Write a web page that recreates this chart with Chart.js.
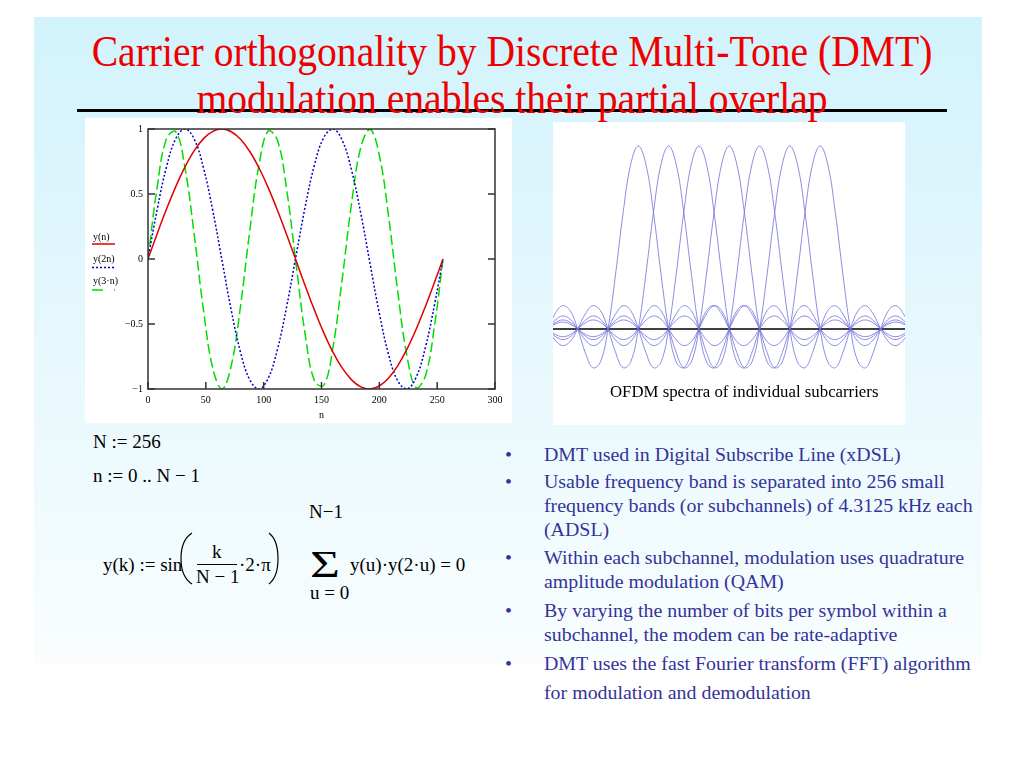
<!DOCTYPE html>
<html>
<head>
<meta charset="utf-8">
<script src="https://cdn.jsdelivr.net/npm/chart.js@4.4.1/dist/chart.umd.min.js"></script>
<style>
  body { margin: 0; width: 1024px; height: 768px; background: #fff; position: relative; overflow: hidden; font-family: "Liberation Serif", "Times New Roman", serif; }
  .abs { position: absolute; white-space: nowrap; line-height: 1; }
  #slide { position: absolute; left: 34px; top: 17px; width: 948px; height: 646px; background: linear-gradient(to bottom, #d2f3fc 0%, #e6f8fd 50%, #f9fdfe 100%); }
  .title { left: 0; width: 1024px; text-align: center; color: #ee0000; font-size: 44px; transform: scaleX(0.9); transform-origin: 512px 0; }
  #rule { position: absolute; left: 77px; top: 109px; width: 870px; height: 2.5px; background: #000; }
  .box { position: absolute; background: #fff; }
  .leg { font-size: 10px; color: #000; }
  .fm { font-size: 19px; color: #000; }
  .bl { font-size: 19.5px; color: #333399; transform: scaleX(1.02); transform-origin: 0 0; }
</style>
</head>
<body>
<div id="slide"></div>
<div id="rule"></div>
<div class="abs title" style="top:30px">Carrier orthogonality by Discrete Multi-Tone (DMT)</div>
<div class="abs title" style="top:77px">modulation enables their partial overlap</div>

<div class="box" style="left:85px;top:118px;width:427px;height:305px">
  <canvas id="waveChart" width="427" height="305"></canvas>
</div>
<div class="abs leg" style="left:93px;top:232px">y(n)</div>
<div class="abs leg" style="left:93px;top:254px">y(2n)</div>
<div class="abs leg" style="left:93px;top:276px">y(3·n)</div>
<svg class="abs" style="left:90px;top:238px" width="28" height="60">
  <line x1="2" y1="6" x2="25" y2="6" stroke="#e00000" stroke-width="1.5"/>
  <line x1="2" y1="29.5" x2="25" y2="29.5" stroke="#0000c8" stroke-width="1.5" stroke-dasharray="2,2"/>
  <line x1="2" y1="52" x2="25" y2="52" stroke="#00dd00" stroke-width="1.5" stroke-dasharray="11,11"/>
</svg>

<div class="box" style="left:553px;top:122px;width:352px;height:303px">
  <canvas id="ofdmChart" width="352" height="303"></canvas>
</div>
<div class="abs" style="left:610px;top:384px;font-size:16.8px;color:#000">OFDM spectra of individual subcarriers</div>

<div class="abs fm" style="left:93px;top:432px">N := 256</div>
<div class="abs fm" style="left:93px;top:466px">n := 0 .. N − 1</div>
<div class="abs fm" style="left:103px;top:555px">y(k) := sin</div>
<svg class="abs" style="left:176px;top:530px" width="106" height="58">
  <path d="M16 3 Q5 10 5 28.5 Q5 47 16 54" fill="none" stroke="#000" stroke-width="1.2"/>
  <path d="M93 3 Q102 10 102 28.5 Q102 47 93 54" fill="none" stroke="#000" stroke-width="1.2"/>
</svg>
<div class="abs fm" style="left:212px;top:542px">k</div>
<div class="abs" style="left:197px;top:564px;width:40px;height:1px;background:#000"></div>
<div class="abs fm" style="left:196px;top:567px">N − 1</div>
<div class="abs fm" style="left:239px;top:555px">·2·π</div>
<div class="abs fm" style="left:309px;top:502px">N−1</div>
<div class="abs fm" style="left:310px;top:545px;font-size:38px;transform:scaleX(1.35);transform-origin:0 0">Σ</div>
<div class="abs fm" style="left:310px;top:583px">u = 0</div>
<div class="abs fm" style="left:350px;top:555px">y(u)·y(2·u) = 0</div>

<div id="bullets"></div>

<script>
// left chart: y(k) = sin(k/(N-1)*2pi), read at every 8th n
const nValues = [0, 8, 16, 24, 32, 40, 48, 56, 64, 72, 80, 88, 96, 104, 112, 120, 128,
                 136, 144, 152, 160, 168, 176, 184, 192, 200, 208, 216, 224, 232, 240, 248, 255];
const yN  = [0, 0.196, 0.384, 0.557, 0.709, 0.834, 0.926, 0.982, 1.000, 0.979, 0.921, 0.827, 0.700, 0.547, 0.373, 0.184, -0.012,
             -0.208, -0.395, -0.568, -0.718, -0.840, -0.930, -0.984, -1.000, -0.977, -0.916, -0.820, -0.692, -0.537, -0.361, -0.172, 0];
const y2N = [0, 0.384, 0.709, 0.926, 1.000, 0.921, 0.700, 0.373, -0.012, -0.395, -0.718, -0.930, -1.000, -0.916, -0.692, -0.361, 0.025,
             0.407, 0.726, 0.935, 1.000, 0.911, 0.683, 0.350, -0.037, -0.418, -0.735, -0.939, -0.999, -0.906, -0.674, -0.338, 0];
const y3N = [0, 0.557, 0.926, 0.979, 0.700, 0.184, -0.395, -0.840, -1.000, -0.820, -0.361, 0.220, 0.726, 0.986, 0.911, 0.526, -0.037,
             -0.588, -0.939, -0.971, -0.674, -0.147, 0.429, 0.860, 0.998, 0.798, 0.327, -0.256, -0.751, -0.992, -0.895, -0.495, 0];

// right chart: one subcarrier spectrum, offsets -9..9 in steps of 0.25
const subcarrierCentres = [3, 4, 5, 6, 7, 8, 9];
const lobeStart = -9;
const lobeStep = 0.25;
const lobeShape = [0, 0.026, 0.037, 0.027, 0, -0.029, -0.042, -0.031, 0, 0.033, 0.049, 0.036,
                   0, -0.039, -0.058, -0.043, 0, 0.047, 0.071, 0.053, 0, -0.060, -0.091, -0.069,
                   0, 0.082, 0.127, 0.100, 0, -0.129, -0.212, -0.180, 0, 0.300, 0.637, 0.900,
                   1.000,
                   0.900, 0.637, 0.300, 0, -0.180, -0.212, -0.129, 0, 0.100, 0.127, 0.082, 0,
                   -0.069, -0.091, -0.060, 0, 0.053, 0.071, 0.047, 0, -0.043, -0.058, -0.039, 0,
                   0.036, 0.049, 0.033, 0, -0.031, -0.042, -0.029, 0, 0.027, 0.037, 0.026, 0];
const freqRange = [0.185, 11.8];

const bulletLines = [
    { text: 'DMT used in Digital Subscribe Line (xDSL)', base: 461, dot: true },
    { text: 'Usable frequency band is separated into 256 small', base: 488, dot: true },
    { text: 'frequency bands (or subchannels) of 4.3125 kHz each', base: 512 },
    { text: '(ADSL)', base: 536 },
    { text: 'Within each subchannel, modulation uses quadrature', base: 564, dot: true },
    { text: 'amplitude modulation (QAM)', base: 588 },
    { text: 'By varying the number of bits per symbol within a', base: 617, dot: true },
    { text: 'subchannel, the modem can be rate-adaptive', base: 641 },
    { text: 'DMT uses the fast Fourier transform (FFT) algorithm', base: 670, dot: true },
    { text: 'for modulation and demodulation', base: 699 }
];

const bulletsDiv = document.getElementById('bullets');
bulletLines.forEach(function(line) {
    const top = line.base - 16.3;
    if (line.dot) {
        bulletsDiv.insertAdjacentHTML('beforeend', '<div class="abs bl" style="left:505px;top:' + top + 'px">•</div>');
    }
    bulletsDiv.insertAdjacentHTML('beforeend', '<div class="abs bl" style="left:544px;top:' + top + 'px">' + line.text + '</div>');
});

function toPoints(xs, ys) {
    return xs.map((x, i) => ({ x: x, y: ys[i] }));
}

const minusLabel = v => (v < 0 ? '\u2212' + Math.abs(v) : String(v));

// Mathcad style box round the plot, with ticks pointing inwards
const mathcadFrame = {
    id: 'mathcadFrame',
    afterDraw(chart) {
        const ctx = chart.ctx;
        const a = chart.chartArea;
        const xs = chart.scales.x;
        const ys = chart.scales.y;
        ctx.save();
        ctx.strokeStyle = '#333';
        ctx.lineWidth = 1.5;
        ctx.strokeRect(a.left, a.top, a.right - a.left, a.bottom - a.top);
        ctx.beginPath();
        xs.ticks.forEach(t => {
            const px = xs.getPixelForValue(t.value);
            ctx.moveTo(px, a.bottom);
            ctx.lineTo(px, a.bottom - 7);
        });
        ys.ticks.forEach(t => {
            const py = ys.getPixelForValue(t.value);
            ctx.moveTo(a.left, py);
            ctx.lineTo(a.left + 7, py);
            ctx.moveTo(a.right, py);
            ctx.lineTo(a.right - 7, py);
        });
        ctx.stroke();
        ctx.restore();
    }
};

const tickFont = { family: 'Liberation Serif', size: 10 };

new Chart(document.getElementById('waveChart'), {
    type: 'line',
    data: {
        datasets: [
            { label: 'y(n)', data: toPoints(nValues, yN), borderColor: '#e00000', borderWidth: 1.5, tension: 0.4 },
            { label: 'y(2n)', data: toPoints(nValues, y2N), borderColor: '#0000c8', borderWidth: 1.5, borderDash: [2, 2], tension: 0.4 },
            { label: 'y(3·n)', data: toPoints(nValues, y3N), borderColor: '#00dd00', borderWidth: 1.5, borderDash: [10, 4], tension: 0.4 }
        ]
    },
    options: {
        responsive: false,
        animation: false,
        elements: { point: { radius: 0 } },
        layout: { padding: { top: 9, right: 17, left: 0, bottom: 0 } },
        plugins: { legend: { display: false }, tooltip: { enabled: false } },
        scales: {
            x: {
                type: 'linear', min: 0, max: 300,
                grid: { display: false, drawTicks: false },
                border: { display: false },
                ticks: { stepSize: 50, padding: 5, color: '#000', font: tickFont, maxRotation: 0 },
                title: { display: true, text: 'n', color: '#000', font: tickFont, padding: { top: 2, bottom: 2 } },
                afterFit: scale => { scale.height = 34; }
            },
            y: {
                min: -1, max: 1,
                grid: { display: false, drawTicks: false },
                border: { display: false },
                ticks: { stepSize: 0.5, padding: 5, color: '#000', font: tickFont, callback: minusLabel },
                afterFit: scale => { scale.width = 63; }
            }
        }
    },
    plugins: [mathcadFrame]
});

const ofdmSets = subcarrierCentres.map(c => ({
    data: lobeShape.map((v, i) => ({ x: c + lobeStart + i * lobeStep, y: v })),
    borderColor: '#7070dc',
    borderWidth: 0.8,
    tension: 0.4
}));
ofdmSets.push({
    data: [{ x: freqRange[0], y: 0 }, { x: freqRange[1], y: 0 }],
    borderColor: '#000',
    borderWidth: 1.5
});

new Chart(document.getElementById('ofdmChart'), {
    type: 'line',
    data: { datasets: ofdmSets },
    options: {
        responsive: false,
        animation: false,
        elements: { point: { radius: 0 } },
        layout: { padding: 0 },
        plugins: { legend: { display: false }, tooltip: { enabled: false } },
        scales: {
            x: { type: 'linear', display: false, min: freqRange[0], max: freqRange[1] },
            y: { display: false, min: -0.525, max: 1.131 }
        }
    }
});
</script>
</body>
</html>
